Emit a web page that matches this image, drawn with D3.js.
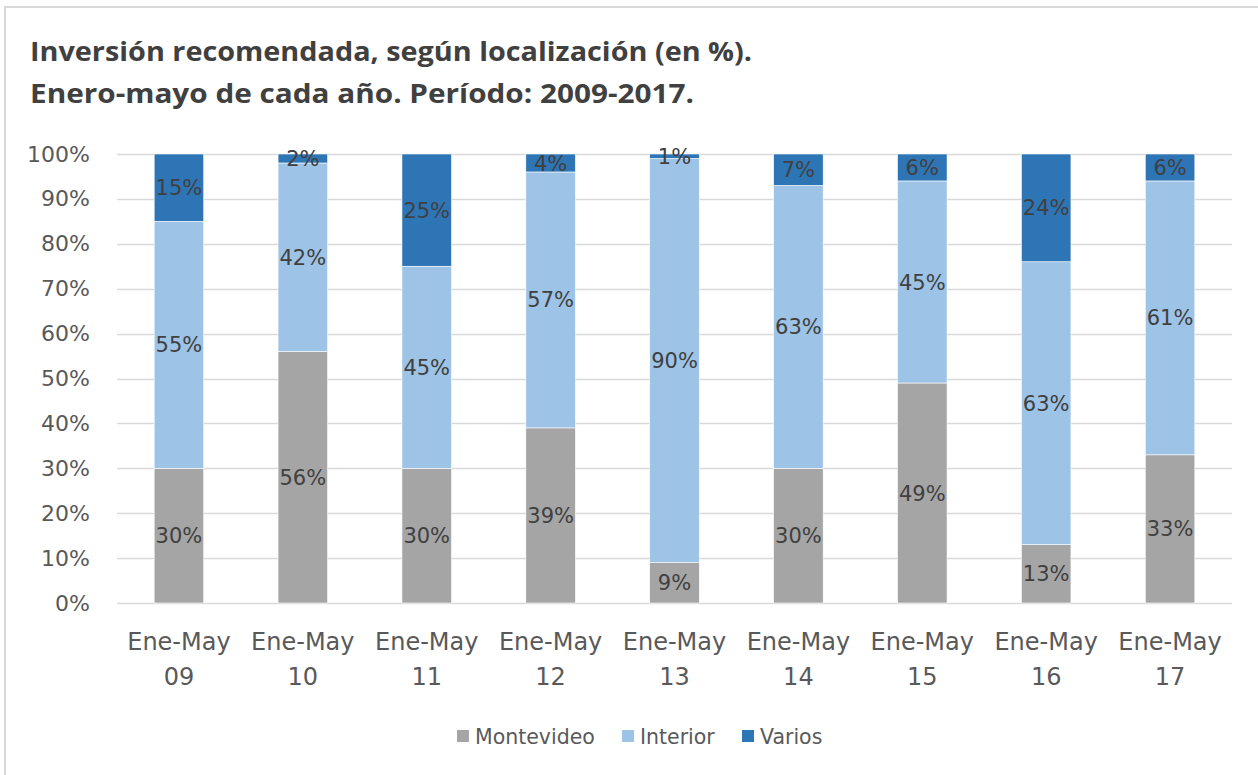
<!DOCTYPE html>
<html>
<head>
<meta charset="utf-8">
<script src="https://cdn.jsdelivr.net/npm/d3@7"></script>
<style>
  body { margin: 0; background: #fff; }
  svg { display: block; }
</style>
</head>
<body>
<div id="chart"></div>
<script>
// data (percent)
var categories = ["Ene-May 09", "Ene-May 10", "Ene-May 11", "Ene-May 12", "Ene-May 13",
                  "Ene-May 14", "Ene-May 15", "Ene-May 16", "Ene-May 17"];
var montevideo = [30, 56, 30, 39, 9, 30, 49, 13, 33];
var interior   = [55, 42, 45, 57, 90, 63, 45, 63, 61];
var varios     = [15, 2, 25, 4, 1, 7, 6, 24, 6];
var seriesNames = ["Montevideo", "Interior", "Varios"];
var yTicks = [0, 0.1, 0.2, 0.3, 0.4, 0.5, 0.6, 0.7, 0.8, 0.9, 1];

var svgWidth = 1258;
var svgHeight = 775;
var margin = { top: 154, right: 26, bottom: 172, left: 117 };
var width = svgWidth - margin.left - margin.right;
var height = svgHeight - margin.top - margin.bottom;

var colors = { Montevideo: "#a5a5a5", Interior: "#9dc3e6", Varios: "#2e75b6" };
var labelFont = "'DejaVu Sans', 'Open Sans', sans-serif";

var svg = d3.select("#chart")
  .append("svg")
  .attr("width", svgWidth)
  .attr("height", svgHeight);

// outer frame
svg.append("rect")
  .attr("x", 5).attr("y", 7)
  .attr("width", svgWidth + 10).attr("height", svgHeight + 10)
  .attr("fill", "none")
  .attr("stroke", "#d9d9d9")
  .attr("stroke-width", 2);

// title
var titleLines = ["Inversión recomendada, según localización (en %).",
                  "Enero-mayo de cada año. Período: 2009-2017."];
var titleWidths = [722, 664];
svg.selectAll(".title")
  .data(titleLines)
  .enter()
  .append("text")
  .attr("class", "title")
  .attr("x", 30)
  .attr("y", (d, i) => 61 + i * 42)
  .attr("textLength", (d, i) => titleWidths[i])
  .attr("lengthAdjust", "spacingAndGlyphs")
  .style("font-family", "'Liberation Sans Narrow', 'Open Sans', sans-serif")
  .style("font-weight", "bold")
  .style("font-size", "27px")
  .style("fill", "#404040")
  .text(d => d);

var chartGroup = svg.append("g")
  .attr("transform", `translate(${margin.left}, ${margin.top})`);

// build rows for the stack
var rows = categories.map((c, i) => ({
  cat: c,
  Montevideo: montevideo[i],
  Interior: interior[i],
  Varios: varios[i]
}));

var stack = d3.stack().keys(seriesNames).offset(d3.stackOffsetExpand);
var stacked = stack(rows);

var xBandScale = d3.scaleBand()
  .domain(categories)
  .range([0, width])
  .paddingInner(0.6)
  .paddingOuter(0.3);

var yLinearScale = d3.scaleLinear()
  .domain([0, 1])
  .range([height, 0]);

// gridlines
chartGroup.append("g")
  .selectAll("line")
  .data(yTicks)
  .enter()
  .append("line")
  .attr("x1", 0)
  .attr("x2", width)
  .attr("y1", d => Math.round(yLinearScale(d)) + 0.5)
  .attr("y2", d => Math.round(yLinearScale(d)) + 0.5)
  .attr("stroke", "#d9d9d9")
  .attr("stroke-width", 1.5);

// y axis
var leftAxis = d3.axisLeft(yLinearScale)
  .tickValues(yTicks)
  .tickFormat(d3.format(".0%"))
  .tickSize(0)
  .tickPadding(27);

var yAxisG = chartGroup.append("g").call(leftAxis);
yAxisG.select(".domain").remove();
yAxisG.selectAll("text")
  .style("font-family", labelFont)
  .style("font-size", "22px")
  .style("fill", "#595959");

// bars
var layers = chartGroup.selectAll(".layer")
  .data(stacked)
  .enter()
  .append("g")
  .attr("class", "layer")
  .attr("fill", d => colors[d.key]);

layers.selectAll("rect")
  .data(d => d)
  .enter()
  .append("rect")
  .attr("x", d => xBandScale(d.data.cat))
  .attr("y", d => yLinearScale(d[1]))
  .attr("width", xBandScale.bandwidth())
  .attr("height", d => yLinearScale(d[0]) - yLinearScale(d[1]))
  .attr("stroke", "#fff")
  .attr("stroke-width", 0.6);

// data labels
layers.selectAll("text")
  .data(d => d.map(p => ({ p: p, key: d.key })))
  .enter()
  .append("text")
  .attr("x", d => xBandScale(d.p.data.cat) + xBandScale.bandwidth() / 2)
  .attr("y", d => (yLinearScale(d.p[0]) + yLinearScale(d.p[1])) / 2)
  .attr("dy", "0.36em")
  .attr("text-anchor", "middle")
  .style("font-family", labelFont)
  .style("font-size", "21px")
  .style("fill", "#404040")
  .text(d => d.p.data[d.key] + "%");

// x axis labels (two lines)
var xLabels = chartGroup.append("g")
  .selectAll("text")
  .data(categories)
  .enter()
  .append("text")
  .attr("x", d => xBandScale(d) + xBandScale.bandwidth() / 2)
  .attr("y", height + 47)
  .attr("text-anchor", "middle")
  .style("font-family", labelFont)
  .style("font-size", "24px")
  .style("fill", "#595959");

xLabels.append("tspan")
  .attr("x", d => xBandScale(d) + xBandScale.bandwidth() / 2)
  .text(d => d.split(" ")[0]);
xLabels.append("tspan")
  .attr("x", d => xBandScale(d) + xBandScale.bandwidth() / 2)
  .attr("dy", 35)
  .text(d => d.split(" ")[1]);

// legend
var legendX = [457, 622, 742];
var legend = svg.append("g")
  .selectAll("g")
  .data(seriesNames)
  .enter()
  .append("g")
  .attr("transform", (d, i) => `translate(${legendX[i]}, 730)`);

legend.append("rect")
  .attr("width", 12)
  .attr("height", 12)
  .attr("fill", d => colors[d]);

legend.append("text")
  .attr("x", 18)
  .attr("y", 14)
  .style("font-family", labelFont)
  .style("font-size", "20.5px")
  .style("fill", "#595959")
  .text(d => d);
</script>
</body>
</html>
